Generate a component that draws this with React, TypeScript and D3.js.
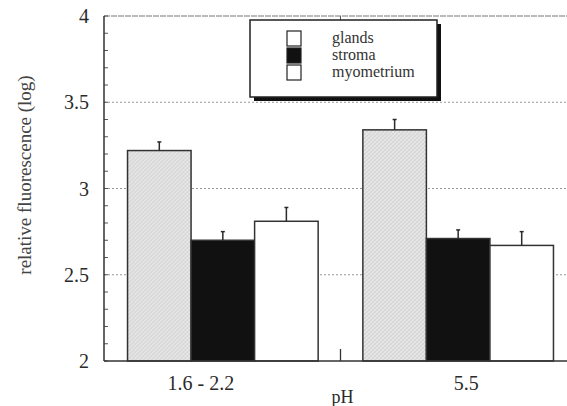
import React, { useEffect, useRef } from 'react'
import * as d3 from 'd3'

const groups = ['1.6 - 2.2', '5.5']
const series = ['glands', 'stroma', 'myometrium']
const means: number[][] = [
  [3.22, 2.70, 2.81],
  [3.34, 2.71, 2.67],
]
const errTops: number[][] = [
  [3.27, 2.75, 2.89],
  [3.40, 2.76, 2.75],
]
const yTicks = [2, 2.5, 3, 3.5, 4]
const gridVals = [2.5, 3, 3.5]

const W = 567
const H = 406
const margin = { top: 16, right: 0, bottom: 45, left: 104 }
// the labels in the original sit a little off the group centres
const labelShift = [-22, 8]

export default function App() {
  const ref = useRef<SVGSVGElement>(null)

  useEffect(() => {
    const svg = d3.select(ref.current)
    svg.selectAll('*').remove()

    const innerW = W - margin.left - margin.right
    const innerH = H - margin.top - margin.bottom
    const font = '"Liberation Serif", "DejaVu Serif", serif'
    const ink = '#2a2a2a'

    const defs = svg.append('defs')
    const pat = defs.append('pattern')
      .attr('id', 'hatch')
      .attr('width', 4).attr('height', 4)
      .attr('patternUnits', 'userSpaceOnUse')
    pat.append('rect').attr('width', 4).attr('height', 4).attr('fill', '#e6e6e6')
    pat.append('path').attr('d', 'M0,4 L4,0').attr('stroke', '#cbcbcb').attr('stroke-width', 0.8)
    pat.append('path').attr('d', 'M0,0 L4,4').attr('stroke', '#d6d6d6').attr('stroke-width', 0.6)

    const g = svg.append('g').attr('transform', `translate(${margin.left},${margin.top})`)

    const y = d3.scaleLinear().domain([2, 4]).range([innerH, 0])
    const x0 = d3.scaleBand<string>().domain(groups).range([0, 473]).paddingInner(0.19).paddingOuter(0.1)
    const x1 = d3.scaleBand<string>().domain(series).range([0, x0.bandwidth()])

    const fills: Record<string, string> = { glands: 'url(#hatch)', stroma: '#111', myometrium: '#fff' }

    // grid lines
    g.selectAll('.grid').data(gridVals).join('line')
      .attr('x1', 0).attr('x2', innerW)
      .attr('y1', d => y(d)).attr('y2', d => y(d))
      .attr('stroke', '#999').attr('stroke-width', 1).attr('stroke-dasharray', '2,2')

    // top frame
    g.append('line').attr('x1', 0).attr('x2', innerW).attr('y1', 0).attr('y2', 0)
      .attr('stroke', '#777').attr('stroke-width', 1).attr('stroke-dasharray', '6,1')

    // bars
    groups.forEach((gr, gi) => {
      const gg = g.append('g').attr('transform', `translate(${x0(gr)},0)`)
      series.forEach((s, si) => {
        const bx = x1(s)!
        const bw = x1.bandwidth()
        gg.append('rect')
          .attr('x', bx).attr('width', bw)
          .attr('y', y(means[gi][si])).attr('height', y(2) - y(means[gi][si]))
          .attr('fill', fills[s]).attr('stroke', '#333').attr('stroke-width', 1.5)
        const cx = bx + bw / 2
        gg.append('line').attr('x1', cx).attr('x2', cx)
          .attr('y1', y(means[gi][si])).attr('y2', y(errTops[gi][si]))
          .attr('stroke', ink).attr('stroke-width', 1.5)
        gg.append('line').attr('x1', cx - 2).attr('x2', cx + 2)
          .attr('y1', y(errTops[gi][si])).attr('y2', y(errTops[gi][si]))
          .attr('stroke', ink).attr('stroke-width', 1.5)
      })
    })

    // left axis with minor ticks
    const minor = d3.range(2, 4.001, 0.1)
    g.selectAll('.minor').data(minor).join('line')
      .attr('x1', 0).attr('x2', 4)
      .attr('y1', d => y(d)).attr('y2', d => y(d))
      .attr('stroke', '#555').attr('stroke-width', 1)
    g.append('line').attr('x1', 0).attr('x2', 0).attr('y1', 0).attr('y2', innerH)
      .attr('stroke', '#333').attr('stroke-width', 1.5)
    g.append('line').attr('x1', 0).attr('x2', innerW).attr('y1', innerH).attr('y2', innerH)
      .attr('stroke', '#333').attr('stroke-width', 1.5)

    // tick between the two groups
    const midX = (x0(groups[0])! + x0.bandwidth() + x0(groups[1])!) / 2
    g.append('line').attr('x1', midX).attr('x2', midX).attr('y1', innerH).attr('y2', innerH - 12)
      .attr('stroke', '#333').attr('stroke-width', 1.3)
    g.append('line').attr('x1', midX).attr('x2', midX).attr('y1', 0).attr('y2', 4)
      .attr('stroke', '#555').attr('stroke-width', 1)

    g.selectAll('.ylab').data(yTicks).join('text')
      .attr('x', -15).attr('y', d => y(d)).attr('dy', '0.35em')
      .attr('text-anchor', 'end')
      .attr('font-family', font).attr('font-size', 20).attr('fill', ink)
      .text(d => String(d))

    g.selectAll('.xlab').data(groups).join('text')
      .attr('x', (d, i) => x0(d)! + x0.bandwidth() / 2 + labelShift[i]).attr('y', innerH + 29)
      .attr('text-anchor', 'middle')
      .attr('font-family', font).attr('font-size', 20).attr('fill', ink)
      .text(d => d)

    g.append('text').attr('x', midX + 2).attr('y', innerH + 42)
      .attr('text-anchor', 'middle')
      .attr('font-family', font).attr('font-size', 18).attr('fill', ink)
      .text('pH')

    svg.append('text')
      .attr('transform', `translate(31,${175}) rotate(-90)`)
      .attr('text-anchor', 'middle')
      .attr('font-family', font).attr('font-size', 19).attr('fill', '#444')
      .text('relative fluorescence (log)')

    // legend
    const lg = svg.append('g').attr('transform', 'translate(250,20)')
    lg.append('rect').attr('x', 4).attr('y', 4).attr('width', 187).attr('height', 77).attr('fill', '#111')
    lg.append('rect').attr('x', 0).attr('y', 0).attr('width', 187).attr('height', 77)
      .attr('fill', '#fff').attr('stroke', '#222').attr('stroke-width', 1.5)
    const legendFills: Record<string, string> = { glands: '#fff', stroma: '#111', myometrium: '#fff' }
    series.forEach((s, i) => {
      lg.append('rect').attr('x', 37).attr('y', 11 + i * 17).attr('width', 14).attr('height', 15)
        .attr('fill', legendFills[s]).attr('stroke', '#222').attr('stroke-width', 1.2)
      lg.append('text').attr('x', 82).attr('y', 23 + i * 17)
        .attr('font-family', font).attr('font-size', 16).attr('fill', '#333')
        .text(s)
    })
  }, [])

  return <svg ref={ref} width={W} height={H} style={{ position: 'absolute', left: 0, top: 0, background: '#fff' }} />
}
